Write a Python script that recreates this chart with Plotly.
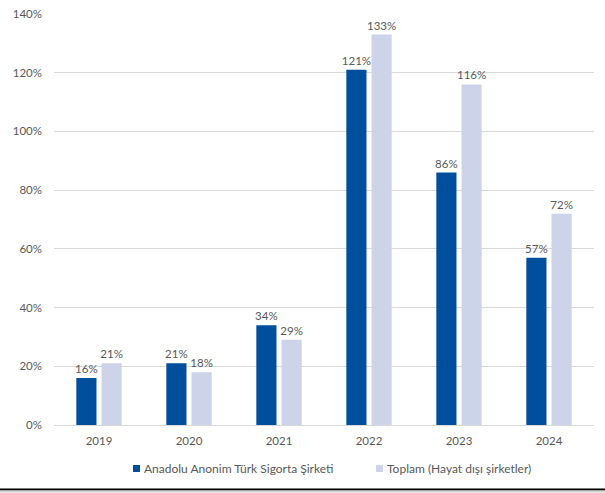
import plotly.graph_objects as go

years = ["2019", "2020", "2021", "2022", "2023", "2024"]
anadolu = [16, 21, 34, 121, 86, 57]
toplam = [21, 18, 29, 133, 116, 72]
series_names = ["Anadolu Anonim Türk Sigorta Şirketi", "Toplam (Hayat dışı şirketler)"]
series_colors = ["#004f9c", "#cdd3e8"]
y_ticks = [0, 20, 40, 60, 80, 100, 120, 140]

W, H = 605, 493
ml, mr, mt, mb = 54, 11, 14, 68
plot_w = W - ml - mr
plot_h = H - mt - mb

font_family = "Lato, 'Open Sans', sans-serif"
text_col = "#595959"


def px_x(p):
    return (p - ml) / plot_w


def px_y(p):
    return (H - mb - p) / plot_h


fig = go.Figure()
for name, vals, col in zip(series_names, [anadolu, toplam], series_colors):
    fig.add_trace(go.Bar(
        x=years, y=vals, name=name, marker=dict(color=col, line=dict(width=0)),
        text=[f"{v}%" for v in vals], textposition="outside",
        textfont=dict(size=11.5, color=text_col, family=font_family),
        constraintext="none", cliponaxis=False, showlegend=False,
    ))

# legend drawn by hand: small square swatch + label
legend_x = [133, 376]
for name, col, lx in zip(series_names, series_colors, legend_x):
    fig.add_shape(type="rect", xref="paper", yref="paper",
                  x0=px_x(lx), x1=px_x(lx + 7), y0=px_y(472), y1=px_y(465),
                  fillcolor=col, line=dict(width=0))
    fig.add_annotation(xref="paper", yref="paper", x=px_x(lx + 9), y=px_y(468.5),
                       text=name, showarrow=False, xanchor="left", yanchor="middle",
                       font=dict(size=12, color=text_col, family=font_family))

# thin rule at the foot of the figure
fig.add_shape(type="line", xref="paper", yref="paper", x0=px_x(0), x1=px_x(W),
              y0=px_y(489.5), y1=px_y(489.5), line=dict(color="#000000", width=2))
fig.add_shape(type="line", xref="paper", yref="paper", x0=px_x(0), x1=px_x(W),
              y0=px_y(491.5), y1=px_y(491.5), line=dict(color="#d0d0d0", width=2))

fig.update_layout(
    width=W, height=H, margin=dict(l=ml, r=mr, t=mt, b=mb, autoexpand=False),
    paper_bgcolor="white", plot_bgcolor="white",
    barmode="group", bargap=0.44, bargroupgap=0.2,
    font=dict(family=font_family, size=11.5, color=text_col),
    showlegend=False,
    xaxis=dict(showgrid=False, showline=False, ticks="", automargin=False,
               tickfont=dict(size=11.5, color=text_col), ticklabelstandoff=7),
    yaxis=dict(range=[0, 140], tickvals=y_ticks, ticktext=[f"{v}%" for v in y_ticks],
               showgrid=True, gridcolor="#d9d9d9", gridwidth=1,
               zeroline=True, zerolinecolor="#d9d9d9", zerolinewidth=1, automargin=False,
               ticks="", tickfont=dict(size=11.5, color=text_col), ticklabelstandoff=11),
)

fig.write_html("out.html")
